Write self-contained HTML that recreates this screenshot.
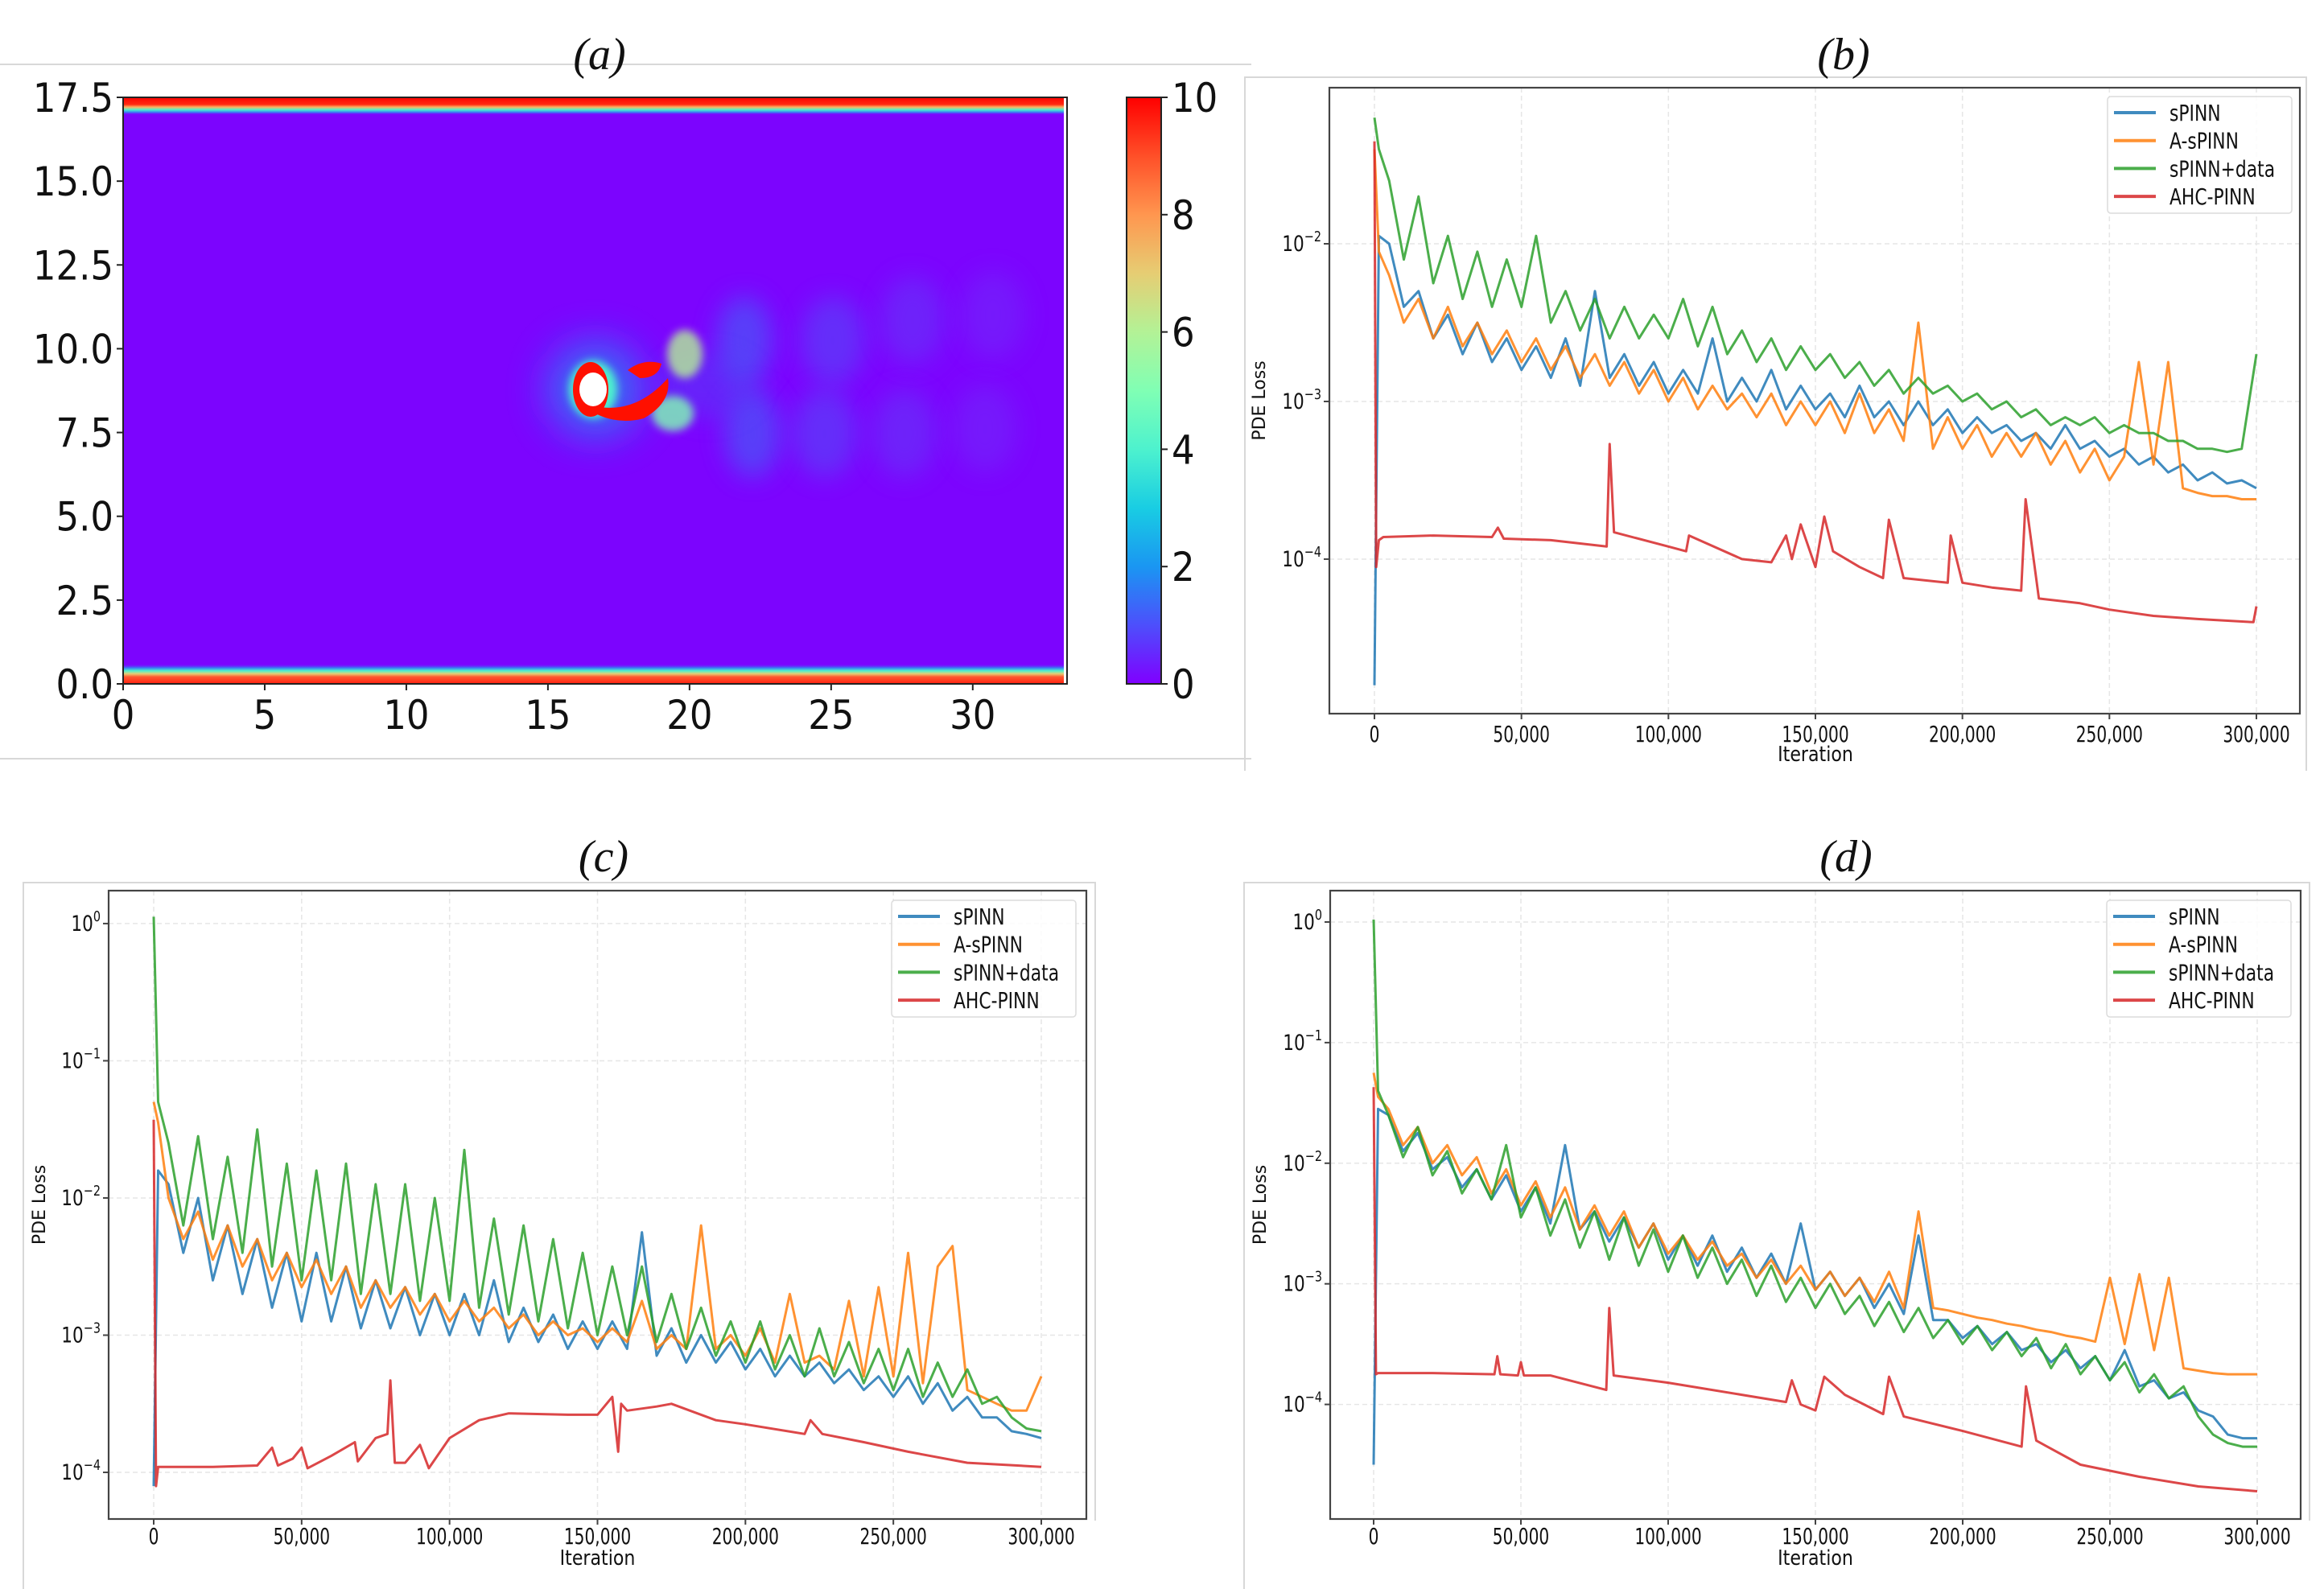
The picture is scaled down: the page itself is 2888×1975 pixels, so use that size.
<!DOCTYPE html>
<html><head><meta charset="utf-8"><style>
html,body{margin:0;padding:0;background:#fff;}
svg{display:block;}
</style></head><body>
<svg id="fig" xmlns="http://www.w3.org/2000/svg" width="2888" height="1975" viewBox="0 0 2888 1975">
<defs>
<linearGradient id="cbar" x1="0" y1="1" x2="0" y2="0">
<stop offset="0" stop-color="#8000ff"/><stop offset="0.1" stop-color="#4d4ffc"/><stop offset="0.2" stop-color="#1a96f2"/>
<stop offset="0.3" stop-color="#19cde3"/><stop offset="0.4" stop-color="#4df2ce"/><stop offset="0.5" stop-color="#80ffb4"/>
<stop offset="0.6" stop-color="#b3f296"/><stop offset="0.7" stop-color="#e6cd73"/><stop offset="0.8" stop-color="#ff964f"/>
<stop offset="0.9" stop-color="#ff4f28"/><stop offset="1" stop-color="#ff0000"/>
</linearGradient>
<linearGradient id="topband" x1="0" y1="0" x2="0" y2="1">
<stop offset="0" stop-color="#ff0000"/><stop offset="0.4" stop-color="#ff2a10"/><stop offset="0.55" stop-color="#ffb060"/>
<stop offset="0.7" stop-color="#4df2ce"/><stop offset="0.85" stop-color="#3a7af4"/><stop offset="1" stop-color="#8000ff" stop-opacity="0"/>
</linearGradient>
<linearGradient id="botband" x1="0" y1="1" x2="0" y2="0">
<stop offset="0" stop-color="#ff2010"/><stop offset="0.35" stop-color="#ff5a30"/><stop offset="0.5" stop-color="#e6cd73"/>
<stop offset="0.65" stop-color="#4df2ce"/><stop offset="0.8" stop-color="#3a7af4"/><stop offset="1" stop-color="#8000ff" stop-opacity="0"/>
</linearGradient>
<filter id="blur15" x="-50%" y="-50%" width="200%" height="200%"><feGaussianBlur stdDeviation="15"/></filter>
<filter id="blur6" x="-50%" y="-50%" width="200%" height="200%"><feGaussianBlur stdDeviation="5"/></filter>
<filter id="blur25" x="-50%" y="-50%" width="200%" height="200%"><feGaussianBlur stdDeviation="25"/></filter>
<clipPath id="clipA"><rect x="153" y="121" width="1173" height="729"/></clipPath>
</defs>
<g id="root"></g>
</svg>
<script>
// ---------- shared iteration grid ----------
const iters = [0,1500,5000,10000,15000,20000,25000,30000,35000,40000,45000,50000,55000,60000,65000,70000,75000,80000,85000,90000,95000,100000,105000,110000,115000,120000,125000,130000,135000,140000,145000,150000,155000,160000,165000,170000,175000,180000,185000,190000,195000,200000,205000,210000,215000,220000,225000,230000,235000,240000,245000,250000,255000,260000,265000,270000,275000,280000,285000,290000,295000,300000];

// ---------- panel (b): log10 PDE loss ----------
const bSpinn = [-4.8,-1.95,
 -2.0,-2.4,-2.3,-2.6,-2.45,-2.7,-2.5,-2.75,-2.6,-2.8,
 -2.65,-2.85,-2.6,-2.9,-2.3,-2.85,-2.7,-2.9,-2.75,-2.95,
 -2.8,-2.95,-2.6,-3.0,-2.85,-3.0,-2.8,-3.05,-2.9,-3.05,
 -2.95,-3.1,-2.9,-3.1,-3.0,-3.15,-3.0,-3.15,-3.05,-3.2,
 -3.1,-3.2,-3.15,-3.25,-3.2,-3.3,-3.15,-3.3,-3.25,-3.35,
 -3.3,-3.4,-3.35,-3.45,-3.4,-3.5,-3.45,-3.52,-3.5,-3.55];
const bAspinn = [-1.4,-2.05,
 -2.2,-2.5,-2.35,-2.6,-2.4,-2.65,-2.5,-2.7,-2.55,-2.75,
 -2.6,-2.8,-2.65,-2.85,-2.7,-2.9,-2.75,-2.95,-2.8,-3.0,
 -2.85,-3.05,-2.9,-3.05,-2.95,-3.1,-2.95,-3.15,-3.0,-3.15,
 -3.0,-3.2,-2.95,-3.2,-3.05,-3.25,-2.5,-3.3,-3.1,-3.3,
 -3.15,-3.35,-3.2,-3.35,-3.2,-3.4,-3.25,-3.45,-3.3,-3.5,
 -3.35,-2.75,-3.4,-2.75,-3.55,-3.58,-3.6,-3.6,-3.62,-3.62];
const bData = [-1.2,-1.4,
 -1.6,-2.1,-1.7,-2.25,-1.95,-2.35,-2.05,-2.4,-2.1,-2.4,
 -1.95,-2.5,-2.3,-2.55,-2.35,-2.6,-2.4,-2.6,-2.45,-2.6,
 -2.35,-2.65,-2.4,-2.7,-2.55,-2.75,-2.6,-2.8,-2.65,-2.8,
 -2.7,-2.85,-2.75,-2.9,-2.8,-2.95,-2.85,-2.95,-2.9,-3.0,
 -2.95,-3.05,-3.0,-3.1,-3.05,-3.15,-3.1,-3.15,-3.1,-3.2,
 -3.15,-3.2,-3.2,-3.25,-3.25,-3.3,-3.3,-3.32,-3.3,-2.7];
const bAhcIters = [0,600,1500,3000,20000,40000,42000,44000,60000,79000,80000,81500,100000,106000,107000,125000,135000,140000,142000,145000,150000,153000,156000,165000,173000,175000,180000,195000,196000,200000,210000,220000,221500,226000,240000,250000,265000,280000,299000,300000];
const bAhc = [-1.35,-4.05,-3.88,-3.86,-3.85,-3.86,-3.8,-3.87,-3.88,-3.92,-3.27,-3.83,-3.92,-3.95,-3.85,-4.0,-4.02,-3.85,-4.0,-3.78,-4.05,-3.73,-3.95,-4.05,-4.12,-3.75,-4.12,-4.15,-3.85,-4.15,-4.18,-4.2,-3.62,-4.25,-4.28,-4.32,-4.36,-4.38,-4.4,-4.3];

// ---------- panel (c) ----------
const cSpinn = [-4.1,-1.8,
 -1.9,-2.4,-2.0,-2.6,-2.2,-2.7,-2.3,-2.8,-2.4,-2.9,
 -2.4,-2.9,-2.5,-2.95,-2.6,-2.95,-2.65,-3.0,-2.7,-3.0,
 -2.7,-3.0,-2.6,-3.05,-2.8,-3.05,-2.85,-3.1,-2.9,-3.1,
 -2.9,-3.1,-2.25,-3.15,-2.95,-3.2,-3.0,-3.2,-3.05,-3.25,
 -3.1,-3.3,-3.15,-3.3,-3.2,-3.35,-3.25,-3.4,-3.3,-3.45,
 -3.3,-3.5,-3.35,-3.55,-3.45,-3.6,-3.6,-3.7,-3.72,-3.75];
const cAspinn = [-1.3,-1.45,
 -2.0,-2.3,-2.1,-2.45,-2.2,-2.5,-2.3,-2.6,-2.4,-2.65,
 -2.45,-2.7,-2.5,-2.8,-2.6,-2.8,-2.65,-2.85,-2.7,-2.9,
 -2.75,-2.9,-2.8,-2.95,-2.85,-3.0,-2.9,-3.0,-2.95,-3.05,
 -2.95,-3.05,-2.75,-3.1,-3.0,-3.1,-2.2,-3.1,-3.0,-3.15,
 -2.95,-3.2,-2.7,-3.2,-3.15,-3.25,-2.75,-3.3,-2.65,-3.3,
 -2.4,-3.35,-2.5,-2.35,-3.4,-3.45,-3.5,-3.55,-3.55,-3.3];
const cData = [0.05,-1.3,
 -1.6,-2.2,-1.55,-2.3,-1.7,-2.4,-1.5,-2.5,-1.75,-2.6,
 -1.8,-2.6,-1.75,-2.7,-1.9,-2.7,-1.9,-2.75,-2.0,-2.75,
 -1.65,-2.8,-2.15,-2.85,-2.2,-2.9,-2.3,-2.95,-2.4,-3.0,
 -2.5,-3.0,-2.5,-3.05,-2.7,-3.1,-2.8,-3.15,-2.9,-3.2,
 -2.9,-3.25,-3.0,-3.3,-2.95,-3.3,-3.05,-3.35,-3.1,-3.4,
 -3.1,-3.45,-3.2,-3.45,-3.25,-3.5,-3.45,-3.6,-3.68,-3.7];
const cAhcIters = [0,800,1500,20000,35000,40000,42000,47000,50000,52000,60000,68000,69000,75000,79000,80000,81500,85000,90000,93000,100000,110000,120000,140000,150000,155000,157000,158000,160000,170000,175000,190000,200000,220000,222000,226000,240000,255000,275000,300000];
const cAhc = [-1.43,-4.1,-3.96,-3.96,-3.95,-3.82,-3.95,-3.9,-3.82,-3.97,-3.88,-3.78,-3.92,-3.75,-3.72,-3.33,-3.93,-3.93,-3.8,-3.97,-3.75,-3.62,-3.57,-3.58,-3.58,-3.45,-3.85,-3.5,-3.55,-3.52,-3.5,-3.62,-3.65,-3.72,-3.62,-3.72,-3.78,-3.85,-3.93,-3.96];

// ---------- panel (d) ----------
const dSpinn = [-4.5,-1.55,
 -1.6,-1.9,-1.75,-2.05,-1.95,-2.2,-2.05,-2.3,-2.1,-2.4,
 -2.2,-2.5,-1.85,-2.55,-2.4,-2.65,-2.45,-2.7,-2.5,-2.8,
 -2.6,-2.85,-2.6,-2.9,-2.7,-2.95,-2.75,-3.0,-2.5,-3.05,
 -2.9,-3.1,-2.95,-3.2,-3.0,-3.25,-2.6,-3.3,-3.3,-3.45,
 -3.35,-3.5,-3.4,-3.55,-3.5,-3.65,-3.55,-3.7,-3.6,-3.8,
 -3.55,-3.85,-3.8,-3.95,-3.9,-4.05,-4.1,-4.25,-4.28,-4.28];
const dAspinn = [-1.25,-1.45,
 -1.55,-1.85,-1.7,-2.0,-1.85,-2.1,-1.95,-2.25,-2.05,-2.35,
 -2.15,-2.45,-2.2,-2.55,-2.35,-2.6,-2.4,-2.7,-2.5,-2.75,
 -2.6,-2.8,-2.65,-2.85,-2.75,-2.95,-2.8,-3.0,-2.85,-3.05,
 -2.9,-3.1,-2.95,-3.15,-2.9,-3.2,-2.4,-3.2,-3.22,-3.25,
 -3.28,-3.3,-3.33,-3.35,-3.38,-3.4,-3.43,-3.45,-3.48,-2.95,
 -3.5,-2.92,-3.55,-2.95,-3.7,-3.72,-3.74,-3.75,-3.75,-3.75];
const dData = [0.02,-1.4,
 -1.6,-1.95,-1.7,-2.1,-1.9,-2.25,-2.05,-2.3,-1.85,-2.45,
 -2.2,-2.6,-2.3,-2.7,-2.4,-2.8,-2.45,-2.85,-2.55,-2.9,
 -2.6,-2.95,-2.7,-3.0,-2.8,-3.1,-2.85,-3.15,-2.95,-3.2,
 -3.0,-3.25,-3.1,-3.35,-3.15,-3.4,-3.2,-3.45,-3.3,-3.5,
 -3.35,-3.55,-3.4,-3.6,-3.45,-3.7,-3.5,-3.75,-3.6,-3.8,
 -3.65,-3.9,-3.75,-3.95,-3.85,-4.1,-4.25,-4.32,-4.35,-4.35];
const dAhcIters = [0,800,1500,20000,41000,42000,43000,49000,50000,51000,60000,79000,80000,81500,100000,125000,140000,142000,145000,150000,153000,160000,173000,175000,180000,200000,220000,221500,225000,240000,260000,280000,300000];
const dAhc = [-1.37,-3.75,-3.74,-3.74,-3.75,-3.6,-3.75,-3.76,-3.65,-3.76,-3.76,-3.88,-3.2,-3.76,-3.82,-3.92,-3.98,-3.8,-4.0,-4.05,-3.77,-3.92,-4.08,-3.77,-4.1,-4.22,-4.35,-3.85,-4.3,-4.5,-4.6,-4.68,-4.72];

// ---------- axis tick labels ----------
const xTickVals = [0,50000,100000,150000,200000,250000,300000];
const xTickLabels = ["0","50,000","100,000","150,000","200,000","250,000","300,000"];
const seriesNames = ["sPINN","A-sPINN","sPINN+data","AHC-PINN"];
const heatXTicks = [0,5,10,15,20,25,30];
const heatYTicks = [0,2.5,5,7.5,10,12.5,15,17.5];
const cbarTicks = [0,2,4,6,8,10];

const NS = "http://www.w3.org/2000/svg";
const root = document.getElementById('root');
function el(tag, attrs, parent){
  const e = document.createElementNS(NS, tag);
  for (const k in attrs) e.setAttribute(k, attrs[k]);
  (parent||root).appendChild(e);
  return e;
}
function txt(x,y,s,size,anchor,sx,parent,fam,style){
  const t = el('text',{transform:`translate(${x},${y}) scale(${sx},1)`, 'font-size':size, 'text-anchor':anchor,
    'font-family': fam || '"DejaVu Sans","Liberation Sans",sans-serif', fill:'#111', 'font-style':style||'normal'}, parent);
  t.textContent = s;
  return t;
}
const COLORS = ['#1f77b4','#ff7f0e','#2ca02c','#d62728'];

// ================== Panel (a) heatmap ==================
(function(){
  const g = el('g',{});
  
  
  el('line',{x1:0,y1:80,x2:1555,y2:80,stroke:'#d8d8d8','stroke-width':2},g);
  el('line',{x1:0,y1:943,x2:1555,y2:943,stroke:'#d8d8d8','stroke-width':2},g);
  const L=153,R=1326,T=121,B=850, xmax=33.33, ymax=17.5;
  const sx = v=>L+v/xmax*(R-L), sy=v=>B-v/ymax*(B-T);
  const cl = el('g',{'clip-path':'url(#clipA)'},g);
  el('rect',{x:L,y:T,width:R-L,height:B-T,fill:'#7c04fe'},cl);
  const blobs=[[925,423,35,55,'#3a70f4',0.55],[935,539,35,55,'#3a70f4',0.55],[1035,423,40,55,'#4a60f4',0.45],[1025,539,40,55,'#4a60f4',0.45],
    [1134,398,40,55,'#5a50f4',0.4],[1124,539,40,55,'#5a50f4',0.4],[1234,392,40,55,'#6a40f6',0.35],[1224,533,40,55,'#6a40f6',0.35],[880,480,60,40,'#4a50f4',0.4]];
  blobs.forEach(b=>{el('ellipse',{cx:b[0],cy:b[1],rx:b[2],ry:b[3],fill:b[4],opacity:b[5],filter:'url(#blur15)'},cl);});
  el('circle',{cx:740,cy:484,r:60,fill:'#1a96f2',opacity:0.7,filter:'url(#blur25)'},cl);
  el('ellipse',{cx:851,cy:440,rx:22,ry:30,fill:'#b3f296',opacity:0.8,filter:'url(#blur6)'},cl);
  el('ellipse',{cx:836,cy:514,rx:26,ry:22,fill:'#80ffb4',opacity:0.8,filter:'url(#blur6)'},cl);
  el('ellipse',{cx:737,cy:484,rx:30,ry:36,fill:'#4df2ce',filter:'url(#blur6)'},cl);
  el('ellipse',{cx:734,cy:484,rx:22,ry:34,fill:'#ff1000'},cl);
  el('path',{d:'M740 505 Q790 515 830 470 Q835 500 800 520 Q770 528 742 515 Z',fill:'#ff1000'},cl);
  el('path',{d:'M780 460 Q800 445 822 452 Q818 470 795 470 Z',fill:'#ff1000'},cl);
  el('ellipse',{cx:737,cy:484,rx:17,ry:21,fill:'#ffffff'},cl);
  el('rect',{x:L,y:T,width:R-L,height:22,fill:'url(#topband)'},cl);
  el('rect',{x:L,y:B-25,width:R-L,height:25,fill:'url(#botband)'},cl);
  el('rect',{x:R-4,y:T,width:4,height:B-T,fill:'#fff'},cl);
  el('rect',{x:L,y:T,width:R-L,height:B-T,fill:'none',stroke:'#222','stroke-width':2},g);
  heatXTicks.forEach(v=>{
    el('line',{x1:sx(v),y1:B,x2:sx(v),y2:B+8,stroke:'#222','stroke-width':2},g);
    const t=txt(sx(v),B+56,String(v),50,'middle',0.9,g);
    
    
  });
  heatYTicks.forEach(v=>{
    el('line',{x1:L-8,y1:sy(v),x2:L,y2:sy(v),stroke:'#222','stroke-width':2},g);
    const t=txt(L-12,sy(v)+18,v.toFixed(1),50,'end',0.9,g);
    
    
  });
  const cb = el('rect',{x:1400,y:T,width:43,height:B-T,fill:'url(#cbar)',stroke:'#222','stroke-width':2},g);
  
  
  cbarTicks.forEach(v=>{
    const y = B - v/10*(B-T);
    el('line',{x1:1443,y1:y,x2:1451,y2:y,stroke:'#222','stroke-width':2},g);
    const t=txt(1456,y+18,String(v),50,'start',0.9,g);
    
    
  });
  const tt = txt(745,86,'(a)',56,'middle',1,g,'"Liberation Serif",serif','italic');
  
  
})();

// ================== Loss panels ==================
function lossPanel(cfg){
  const g = el('g',{});
  
  
  el('path',{d:cfg.box,fill:'none',stroke:'#d8d8d8','stroke-width':2},g);
  const {L,R,T,B,x0,x300,topLog,botLog} = cfg;
  const px = it => x0 + it/300000*(x300-x0);
  const py = lv => T + (topLog-lv)/(topLog-botLog)*(B-T);
  xTickVals.forEach(v=>el('line',{x1:px(v),y1:T,x2:px(v),y2:B,stroke:'#e6e6e6','stroke-width':1.5,'stroke-dasharray':'6 4'},g));
  cfg.yticks.forEach(v=>el('line',{x1:L,y1:py(v),x2:R,y2:py(v),stroke:'#e6e6e6','stroke-width':1.5,'stroke-dasharray':'6 4'},g));
  const series = [[iters,cfg.s[0]],[iters,cfg.s[1]],[iters,cfg.s[2]],[cfg.ahcIters,cfg.s[3]]];
  [0,1,2,3].forEach(i=>{
    const [xs,ys]=series[i];
    let d='';
    ys.forEach((v,k)=>{ d += (k?'L':'M')+px(xs[k]).toFixed(1)+' '+py(v).toFixed(1)+' '; });
    const p = el('path',{d, fill:'none', stroke:COLORS[i], 'stroke-width':3, 'stroke-opacity':0.85,'stroke-linejoin':'round'},g);
    
    
  });
  el('rect',{x:L,y:T,width:R-L,height:B-T,fill:'none',stroke:'#444','stroke-width':2.2},g);
  xTickVals.forEach((v,i)=>{
    el('line',{x1:px(v),y1:B,x2:px(v),y2:B+7,stroke:'#444','stroke-width':2},g);
    const t=txt(px(v),cfg.xtY,xTickLabels[i],28,'middle',0.72,g);
    
    
  });
  cfg.yticks.forEach(v=>{
    el('line',{x1:L-7,y1:py(v),x2:L,y2:py(v),stroke:'#444','stroke-width':2},g);
    const t=el('text',{transform:`translate(${L-10},${py(v)+9}) scale(0.8,1)`,'font-size':27,'text-anchor':'end','font-family':'"DejaVu Sans",sans-serif',fill:'#111'},g);
    
    
    const a=el('tspan',{},t); a.textContent='10';
    const b=el('tspan',{dy:-12,'font-size':18},t); b.textContent=String(v===0?0:v).replace('-','\u2212');
  });
  const xl = txt((x0+x300)/2, cfg.xlY, 'Iteration', 26,'middle',0.85,g);
  
  
  const yl = el('text',{transform:`translate(${cfg.ylX},${(T+B)/2}) rotate(-90)`,'font-size':22,'text-anchor':'middle','font-family':'"DejaVu Sans",sans-serif',fill:'#111'},g);
  yl.textContent='PDE Loss';
  
  
  const lg = el('g',{},g);
  
  
  el('rect',{x:cfg.leg[0],y:cfg.leg[1],width:229,height:145,rx:4,fill:'#fff','fill-opacity':0.85,stroke:'#dcdcdc','stroke-width':1.5},lg);
  seriesNames.forEach((n,i)=>{
    const y = cfg.leg[1]+20+i*34.7;
    const e = el('g',{},lg);
    
    
    el('line',{x1:cfg.leg[0]+8,y1:y,x2:cfg.leg[0]+60,y2:y,stroke:COLORS[i],'stroke-width':4,'stroke-opacity':0.85},e);
    txt(cfg.leg[0]+77,y+10,n,28,'start',0.78,e);
  });
  const tt = txt(cfg.titleX,cfg.titleY,cfg.title,56,'middle',1,g,'"Liberation Serif",serif','italic');
  
  
}

lossPanel({name:'panel-b-loss', title:'(b)', titleX:2291, titleY:86,
  box:'M1547 958 L1547 96 L2866 96 L2866 958', L:1652,R:2858,T:109,B:887,x0:1708,x300:2804,topLog:-1.01,botLog:-4.98,
  yticks:[-2,-3,-4], leg:[2619,120], xtY:922, xlY:946, ylX:1572, ahcIters:bAhcIters, s:[bSpinn,bAspinn,bData,bAhc]});
lossPanel({name:'panel-c-loss', title:'(c)', titleX:750, titleY:1083,
  box:'M29 1975 L29 1097 L1361 1097 L1361 1890', L:135,R:1350,T:1107,B:1888,x0:191,x300:1294,topLog:0.24,botLog:-4.34,
  yticks:[0,-1,-2,-3,-4], leg:[1108,1119], xtY:1919, xlY:1945, ylX:56, ahcIters:cAhcIters, s:[cSpinn,cAspinn,cData,cAhc]});
lossPanel({name:'panel-d-loss', title:'(d)', titleX:2294, titleY:1083,
  box:'M1546 1975 L1546 1097 L2870 1097 L2870 1890', L:1653,R:2859,T:1107,B:1888,x0:1707,x300:2805,topLog:0.26,botLog:-4.95,
  yticks:[0,-1,-2,-3,-4], leg:[2618,1119], xtY:1919, xlY:1945, ylX:1573, ahcIters:dAhcIters, s:[dSpinn,dAspinn,dData,dAhc]});
</script>
</body></html>
